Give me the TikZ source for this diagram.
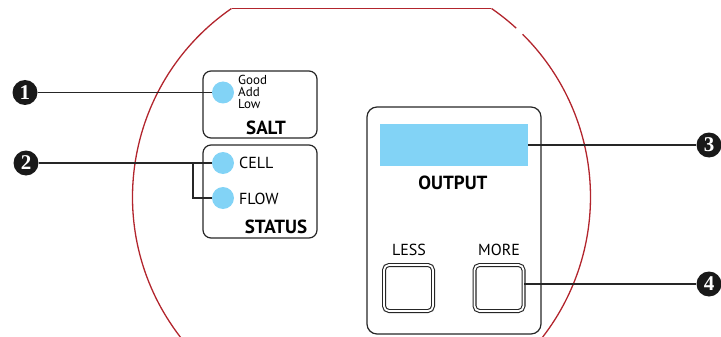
\documentclass[tikz,border=0pt]{standalone}
\usepackage{fontspec}
\setmainfont{PT Sans}
\newfontfamily\numfont{Liberation Serif}
\definecolor{rim}{HTML}{B2252D}
\definecolor{led}{HTML}{82D3F6}
\definecolor{ink}{HTML}{262626}

\begin{document}
\begin{tikzpicture}[x=1pt,y=-1pt,
	panel/.style={draw=ink,line width=1.2pt,rounded corners=8pt,inner sep=0pt},
	lamp/.style={circle,fill=led,minimum size=22pt,inner sep=0pt},
	callout/.style={circle,fill=black!90,text=white,minimum size=25pt,inner sep=0pt,font=\numfont\bfseries\fontsize{21}{21}\selectfont},
	keycap/.style={draw=ink,line width=1.1pt,double=white,double distance=1.8pt,rounded corners=5pt,minimum width=49pt,minimum height=46pt},
	lbl/.style={inner sep=0pt,font=\fontsize{16}{16}\selectfont},
	head/.style={inner sep=0pt,font=\bfseries\fontsize{19}{19}\selectfont}]
		\clip (0,0) rectangle (721,337);
		% rim of the unit
		\draw[rim,line width=1.3pt] (232,8.5) -- (490.8,8.5);
		\begin{scope}[y=1pt]
			\draw[rim,line width=1.3pt] ([shift={(124.6:229)}]361.5,-197) arc (124.6:405.3:229);
			\draw[rim,line width=1.3pt] ([shift={(47.5:229)}]361.5,-197) arc (47.5:55.4:229);
		\end{scope}
		% salt and status panels
		\node[panel,minimum width=114pt,minimum height=67pt] (salt) at (260,104.5) {};
		\node[panel,minimum width=114pt,minimum height=93pt] (status) at (260,191.5) {};
		\node[lamp] (sled) at (223,92.5) {};
		\node[lamp] (cell) at (223,163) {};
		\node[lamp] (flow) at (223,198) {};
		\node[anchor=west,align=left,inner sep=0pt,font=\fontsize{13}{12}\selectfont] (lvl) at (238,92) {Good\\Add\\Low};
		\node[head] (saltl) at (266,128) {SALT};
		\node[head] (statl) at (276,227) {STATUS};
		\node[lbl,anchor=west] (celll) at (239,163) {CELL};
		\node[lbl,anchor=west] (flowl) at (239,199) {FLOW};
		% output panel
		\node[panel,rounded corners=10pt,minimum width=174pt,minimum height=227pt] (out) at (454,220.5) {};
		\node[fill=led,minimum width=148pt,minimum height=42pt,inner sep=0pt] (disp) at (454,145) {};
		\node[head] (outl) at (453,183) {OUTPUT};
		\node[lbl] (lessl) at (409,250) {LESS};
		\node[lbl] (morel) at (499,250) {MORE};
		\node[keycap] (less) at (408.5,288) {};
		\node[keycap] (more) at (499,288) {};
		% callouts
		\foreach \n/\x/\y in {1/25/92.5, 2/26/163, 3/709/145, 4/709/284} {
			\node[callout] (c\n) at (\x,\y) {\n};
		}
		\coordinate (br) at (193,163);
		\draw[ink,line width=1.1pt] (c1) -- (sled);
		\draw[ink,line width=1.1pt] (c2) -- (cell);
		\draw[ink,line width=1.1pt] (br) |- (flow);
		\draw[ink,line width=1.1pt] (disp) -- (c3);
		\draw[ink,line width=1.1pt] (c4 -| more.east) -- (c4);
	\end{tikzpicture}
\end{document}
